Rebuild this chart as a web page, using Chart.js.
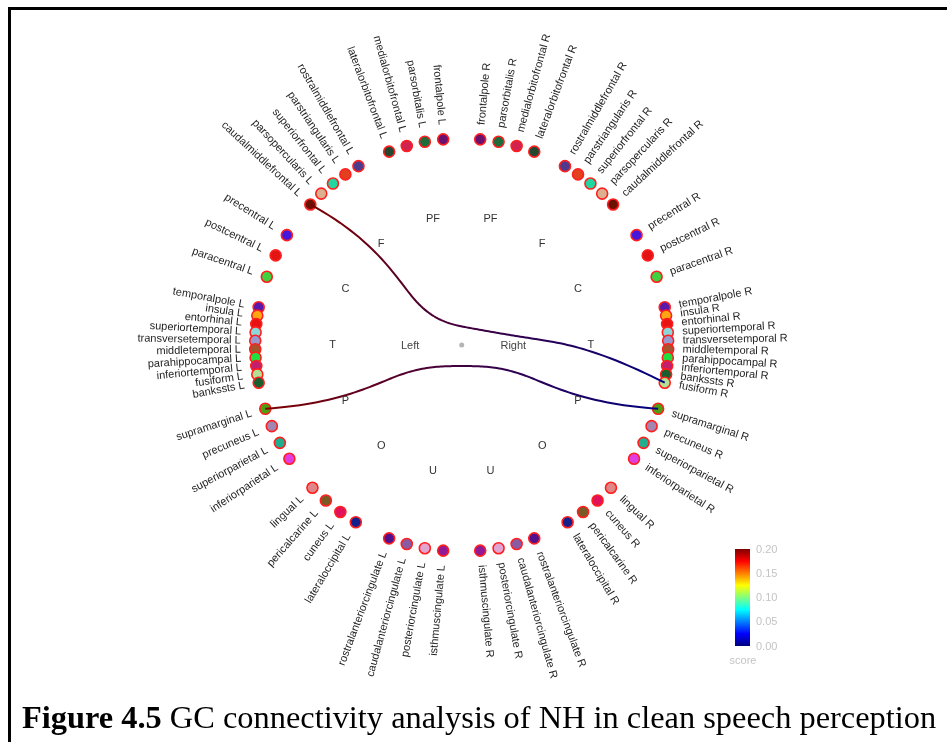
<!DOCTYPE html>
<html>
<head>
<meta charset="utf-8">
<script src="https://cdn.jsdelivr.net/npm/chart.js@4.4.0/dist/chart.umd.min.js"></script>
<style>
  html, body { margin: 0; padding: 0; background: #fff; overflow: hidden; }
  #frame { position: absolute; left: 8px; top: 7px; width: 1000px; height: 800px; border: 3px solid #000; box-sizing: border-box; }
  #wrap { position: absolute; left: 0; top: 0; width: 947px; height: 742px; }
  #caption { position: absolute; left: 22px; top: 701px; font-family: "Liberation Serif", "Times New Roman", serif; font-size: 32.4px; line-height: 1; white-space: nowrap; color: #000; }
</style>
</head>
<body>
<div id="frame"></div>
<div id="wrap"><canvas id="connChart" width="947" height="742"></canvas></div>
<div id="caption"><b>Figure 4.5</b> GC connectivity analysis of NH in clean speech perception</div>
<script>
// lobes of each hemisphere, from the top of the ring down
const lobes = ['PF', 'F', 'C', 'T', 'P', 'O', 'U'];
const lobeSizes = [4, 5, 3, 10, 4, 4, 4];

// regions in ring order (same order as lobes)
const regionsLeft = [
    'frontalpole', 'parsorbitalis', 'medialorbitofrontal', 'lateralorbitofrontal',
    'rostralmiddlefrontal', 'parstriangularis', 'superiorfrontal', 'parsopercularis', 'caudalmiddlefrontal',
    'precentral', 'postcentral', 'paracentral',
    'temporalpole', 'insula', 'entorhinal', 'superiortemporal', 'transversetemporal',
    'middletemporal', 'parahippocampal', 'inferiortemporal', 'fusiform', 'bankssts',
    'supramarginal', 'precuneus', 'superiorparietal', 'inferiorparietal',
    'lingual', 'pericalcarine', 'cuneus', 'lateraloccipital',
    'rostralanteriorcingulate', 'caudalanteriorcingulate', 'posteriorcingulate', 'isthmuscingulate'
];
const regionsRight = [
    'frontalpole', 'parsorbitalis', 'medialorbitofrontal', 'lateralorbitofrontal',
    'rostralmiddlefrontal', 'parstriangularis', 'superiorfrontal', 'parsopercularis', 'caudalmiddlefrontal',
    'precentral', 'postcentral', 'paracentral',
    'temporalpole', 'insula', 'entorhinal', 'superiortemporal', 'transversetemporal',
    'middletemporal', 'parahippocampal', 'inferiortemporal', 'bankssts', 'fusiform',
    'supramarginal', 'precuneus', 'superiorparietal', 'inferiorparietal',
    'lingual', 'cuneus', 'pericalcarine', 'lateraloccipital',
    'rostralanteriorcingulate', 'caudalanteriorcingulate', 'posteriorcingulate', 'isthmuscingulate'
];

// significant GC links
const edgeFrom = ['caudalmiddlefrontal L', 'supramarginal L'];
const edgeTo = ['fusiform R', 'supramarginal R'];
const edgeScoreFrom = [0.20, 0.20];
const edgeScoreTo = [0.00, 0.00];

const scoreTicks = [0.00, 0.05, 0.10, 0.15, 0.20];

// node fill colours (style)
const regionColors = {
    frontalpole: '#6a106e', parsorbitalis: '#1f6b3a', medialorbitofrontal: '#d1234d', lateralorbitofrontal: '#24482f',
    rostralmiddlefrontal: '#4d3a8c', parstriangularis: '#e2401f', superiorfrontal: '#22d6a0', parsopercularis: '#dcb08e',
    caudalmiddlefrontal: '#6b1204', precentral: '#4616dc', postcentral: '#e21414', paracentral: '#40d040',
    temporalpole: '#5a18ac', insula: '#ffa712', entorhinal: '#e81212', superiortemporal: '#8cd8d8',
    transversetemporal: '#9a98cc', middletemporal: '#a5552e', parahippocampal: '#1fe040', inferiortemporal: '#c0206e',
    fusiform: '#b4e094', bankssts: '#1b5e2e', supramarginal: '#4e9e12', precuneus: '#a086b0',
    superiorparietal: '#1fae8e', inferiorparietal: '#e03ee0', lingual: '#e08686', pericalcarine: '#7a5a24',
    cuneus: '#e2125a', lateraloccipital: '#12208e', rostralanteriorcingulate: '#52108c',
    caudalanteriorcingulate: '#8a5aa2', posteriorcingulate: '#e2a4d2', isthmuscingulate: '#921a94'
};

// jet colour map for the score
const jetStops = [[0, '#00007f'], [0.125, '#0000ff'], [0.375, '#00ffff'], [0.625, '#ffff00'], [0.875, '#ff0000'], [1, '#7f0000']];
const scoreMax = 0.20;
const hex = h => [1, 3, 5].map(i => parseInt(h.slice(i, i + 2), 16));
const jet = v => {
    const t = Math.min(Math.max(v / scoreMax, 0), 1);
    for (let i = 1; i < jetStops.length; i++) {
        if (t <= jetStops[i][0]) {
            const [t0, c0] = jetStops[i - 1], [t1, c1] = jetStops[i];
            const a = (t - t0) / (t1 - t0), p = hex(c0), q = hex(c1);
            return 'rgb(' + p.map((x, k) => Math.round(x + (q[k] - x) * a)).join(',') + ')';
        }
    }
    return jetStops[jetStops.length - 1][1];
};

// ring layout
const sector = 180 / lobes.length;
const nodeR = 1, labelR = 1.07, lobeR = 0.625, hemiX = 0.25, tension = 0.67;
const rad = d => d * Math.PI / 180;
const polar = (deg, r, side) => ({ x: side * r * Math.sin(rad(deg)), y: r * Math.cos(rad(deg)) });

const nodes = [];
[[regionsLeft, -1, 'L'], [regionsRight, 1, 'R']].forEach(([list, side, tag]) => {
    let idx = 0;
    lobeSizes.forEach((n, k) => {
        for (let i = 0; i < n; i++) {
            const deg = k * sector + (i + 1) * sector / (n + 1);
            const region = list[idx++];
            nodes.push({ name: region + ' ' + tag, region, deg, side, lobe: k, ...polar(deg, nodeR, side) });
        }
    });
});
const nodeByName = Object.fromEntries(nodes.map(n => [n.name, n]));

// bundled edge: leaf -> lobe -> hemisphere -> root -> hemisphere -> lobe -> leaf
const bspline = (ctrl, samples) => {
    const n = ctrl.length - 1, p = 3;
    const knots = [];
    for (let i = 0; i <= n + p + 1; i++) knots.push(Math.min(Math.max(i - p, 0), n - p + 1));
    const uMax = n - p + 1;
    const out = [];
    for (let s = 0; s <= samples; s++) {
        const u = uMax * s / samples;
        let k = p;
        while (k < n && knots[k + 1] <= u) k++;
        const d = [];
        for (let j = 0; j <= p; j++) d.push({ ...ctrl[j + k - p] });
        for (let r = 1; r <= p; r++) {
            for (let j = p; j >= r; j--) {
                const den = knots[j + 1 + k - r] - knots[j + k - p];
                const a = den === 0 ? 0 : (u - knots[j + k - p]) / den;
                d[j] = { x: (1 - a) * d[j - 1].x + a * d[j].x, y: (1 - a) * d[j - 1].y + a * d[j].y };
            }
        }
        out.push(d[p]);
    }
    return out;
};

const edgePath = (a, b) => {
    const ctrl = [
        a,
        polar((a.lobe + 0.5) * sector, lobeR, a.side),
        { x: a.side * hemiX, y: 0 },
        { x: 0, y: 0 },
        { x: b.side * hemiX, y: 0 },
        polar((b.lobe + 0.5) * sector, lobeR, b.side),
        b
    ];
    const m = ctrl.length - 1;
    const straight = ctrl.map((c, i) => ({
        x: tension * c.x + (1 - tension) * (a.x + (b.x - a.x) * i / m),
        y: tension * c.y + (1 - tension) * (a.y + (b.y - a.y) * i / m)
    }));
    return bspline(straight, 120);
};

const edgeDatasets = edgeFrom.map((src, i) => {
    const a = nodeByName[src], b = nodeByName[edgeTo[i]];
    return {
        data: edgePath(a, b),
        showLine: true,
        pointRadius: 0,
        borderWidth: 2,
        tension: 0,
        borderColor: (context) => {
            const chart = context.chart;
            if (!chart.chartArea) return jet(edgeScoreFrom[i]);
            const xs = chart.scales.x, ys = chart.scales.y;
            const g = chart.ctx.createLinearGradient(
                xs.getPixelForValue(a.x), ys.getPixelForValue(a.y),
                xs.getPixelForValue(b.x), ys.getPixelForValue(b.y));
            g.addColorStop(0, jet(edgeScoreFrom[i]));
            g.addColorStop(1, jet(edgeScoreTo[i]));
            return g;
        }
    };
});

// text around the ring, lobe / hemisphere names and the score colour bar
const ringText = {
    id: 'ringText',
    afterDatasetsDraw(chart) {
        const { ctx } = chart;
        const xs = chart.scales.x, ys = chart.scales.y;
        const px = p => [xs.getPixelForValue(p.x), ys.getPixelForValue(p.y)];

        ctx.save();
        ctx.font = '11px "Liberation Sans", Arial, sans-serif';
        ctx.fillStyle = '#1e1e1e';
        ctx.textBaseline = 'middle';
        nodes.forEach(n => {
            const [x, y] = px(polar(n.deg, labelR, n.side));
            ctx.save();
            ctx.translate(x, y);
            ctx.rotate(rad(n.side > 0 ? n.deg - 90 : 90 - n.deg));
            ctx.textAlign = n.side > 0 ? 'left' : 'right';
            ctx.fillText(n.name, 0, 0);
            ctx.restore();
        });

        ctx.textAlign = 'center';
        ctx.fillStyle = '#333';
        lobes.forEach((lb, k) => {
            [-1, 1].forEach(side => {
                const [x, y] = px(polar((k + 0.5) * sector, lobeR, side));
                ctx.fillText(lb, x, y);
            });
        });
        ctx.fillStyle = '#444';
        [['Left', -1], ['Right', 1]].forEach(([t, side]) => {
            const [x, y] = px({ x: side * hemiX, y: 0 });
            ctx.fillText(t, x, y + 1);
        });

        // colour bar
        const bx = 735, by = 549, bw = 15, bh = 97;
        const g = ctx.createLinearGradient(0, by + bh, 0, by);
        jetStops.forEach(([t, c]) => g.addColorStop(t, c));
        ctx.fillStyle = g;
        ctx.fillRect(bx, by, bw, bh);
        ctx.fillStyle = '#c4c4c4';
        ctx.textAlign = 'left';
        scoreTicks.forEach(v => {
            ctx.fillText(v.toFixed(2), bx + 21, by + bh - (v / scoreMax) * bh + 0.5);
        });
        ctx.textAlign = 'center';
        ctx.fillText('score', bx + 8, by + bh + 15);
        ctx.restore();
    }
};

const ctx = document.getElementById('connChart').getContext('2d');
const connChart = new Chart(ctx, {
    type: 'scatter',
    data: {
        datasets: [
            ...edgeDatasets,
            {
                data: nodes.map(n => ({ x: n.x, y: n.y })),
                pointBackgroundColor: nodes.map(n => regionColors[n.region]),
                pointBorderColor: '#ff1f1f',
                pointBorderWidth: 1.6,
                pointRadius: 5.5
            },
            {
                data: [{ x: 0, y: 0 }],
                pointBackgroundColor: '#b4b4b4',
                pointBorderWidth: 0,
                pointRadius: 2.5
            }
        ]
    },
    options: {
        responsive: false,
        animation: false,
        events: [],
        layout: { padding: { left: 7.4, right: 31, top: 14.6, bottom: 66.6 } },
        scales: {
            x: { type: 'linear', min: -2.2, max: 2.2, display: false },
            y: { type: 'linear', min: -1.6, max: 1.6, display: false }
        },
        plugins: { legend: { display: false }, tooltip: { enabled: false } }
    },
    plugins: [ringText]
});
</script>
</body>
</html>
